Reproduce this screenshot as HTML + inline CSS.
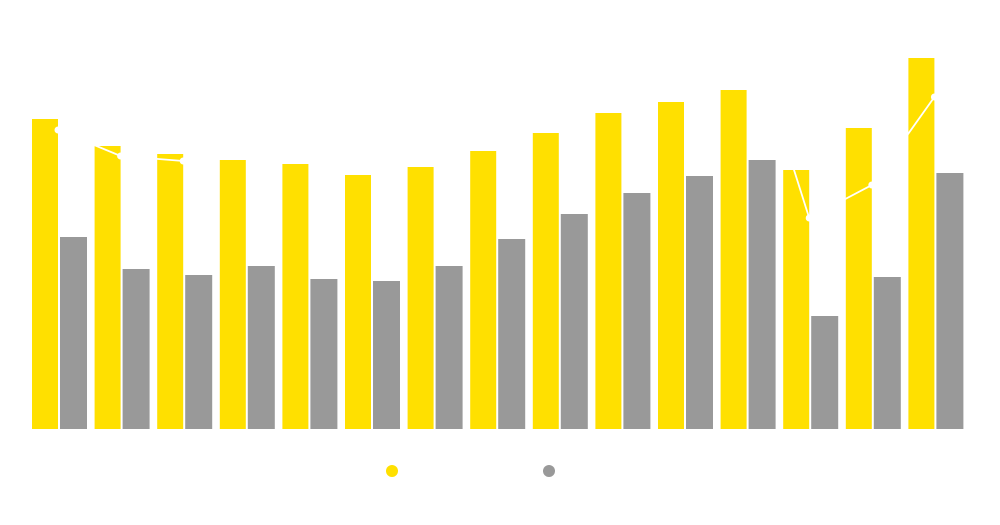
<!DOCTYPE html>
<html><head><meta charset="utf-8"><style>html,body{margin:0;padding:0;background:#fff;}svg{display:block}</style></head>
<body>
<svg width="1000" height="525" viewBox="0 0 1000 525" xmlns="http://www.w3.org/2000/svg" font-family="Liberation Sans, sans-serif">
<g id="bars"></g>
<polyline id="ln" fill="none" stroke="#fff" stroke-width="1.8"/>
<g id="dots"></g>
<circle cx="392" cy="471" r="6" fill="#FFE000"/>
<text x="404" y="476" font-size="13" fill="#fff">Series 1</text>
<circle cx="549" cy="471" r="6" fill="#999"/>
<text x="561" y="476" font-size="13" fill="#fff">Series 2</text>
<script>
var y=[119,146,154,160,164,175,167,151,133,113,102,90,170,128,58];
var g=[237,269,275,266,279,281,266,239,214,193,176,160,316,277,173];
var l=[130,156,161,140,140,145,140,120,100,80,60,40,218,185,97];
l[11]=20;
var ns="http://www.w3.org/2000/svg",b=document.getElementById('bars'),d=document.getElementById('dots'),pts=[];
function r(x,yy,w,h,c){var e=document.createElementNS(ns,'rect');e.setAttribute('x',x);e.setAttribute('y',yy);e.setAttribute('width',w);e.setAttribute('height',h);e.setAttribute('fill',c);b.appendChild(e);}
for(var i=0;i<15;i++){var x=32+62.6*i;r(x,y[i],26,429-y[i],'#FFE000');r(x+28,g[i],27,429-g[i],'#999');
var cx=x+26;pts.push(cx+','+l[i]);var c=document.createElementNS(ns,'circle');c.setAttribute('cx',cx);c.setAttribute('cy',l[i]);c.setAttribute('r',3.5);c.setAttribute('fill','#fff');d.appendChild(c);}
document.getElementById('ln').setAttribute('points',pts.join(' '));
</script>
</svg>
</body></html>
